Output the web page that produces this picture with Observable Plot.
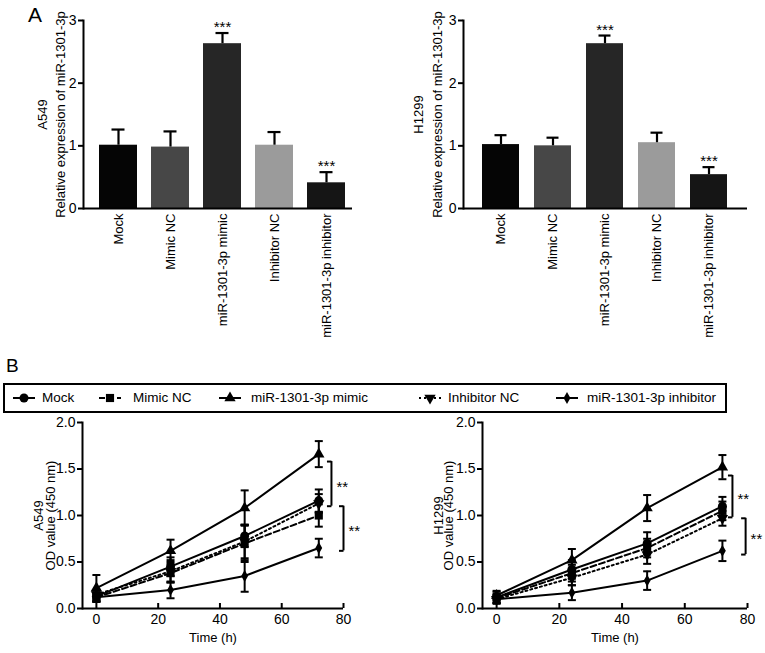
<!DOCTYPE html>
<html><head><meta charset="utf-8">
<script src="https://cdn.jsdelivr.net/npm/d3@7"></script>
<script src="https://cdn.jsdelivr.net/npm/@observablehq/plot@0.6"></script>
<style>
body{margin:0;background:#fff;font-family:"Liberation Sans",Arial,Helvetica,sans-serif;color:#000;}
#root{position:relative;width:765px;height:653px;overflow:hidden;}
.cell{position:absolute;}
.letter{position:absolute;line-height:1;}
#legend{position:absolute;left:3px;top:383px;width:724px;height:30px;box-sizing:border-box;border:2px solid #000;}
.lg-sym{position:absolute;top:0;}
.lg-txt{position:absolute;top:0;height:26px;line-height:26px;font-size:13.5px;white-space:nowrap;}
</style></head><body><div id="root"></div>
<script>
// ---------- data ----------
const groups = ["Mock", "Mimic NC", "miR-1301-3p mimic", "Inhibitor NC", "miR-1301-3p inhibitor"];
const barColors = ["#050505", "#474747", "#262626", "#9b9b9b", "#151515"];
const a549Expr = [1.01, 0.98, 2.63, 1.01, 0.41];
const a549ExprErr = [0.25, 0.25, 0.17, 0.21, 0.17];
const h1299Expr = [1.02, 1.00, 2.63, 1.05, 0.54];
const h1299ExprErr = [0.15, 0.13, 0.13, 0.16, 0.12];
const exprStars = ["", "", "***", "", "***"];
const exprTicks = [0, 1, 2, 3];

const timePoints = [0, 24, 48, 72];
const timeTicks = [0, 20, 40, 60, 80];
const odTicks = [0, 0.5, 1.0, 1.5, 2.0];

const a549Mock = [0.13, 0.45, 0.78, 1.16];
const a549MockErr = [0.06, 0.10, 0.12, 0.12];
const a549MimicNC = [0.12, 0.38, 0.70, 1.00];
const a549MimicNCErr = [0.05, 0.10, 0.20, 0.12];
const a549Mimic = [0.22, 0.62, 1.08, 1.66];
const a549MimicErr = [0.14, 0.12, 0.19, 0.14];
const a549InhibitorNC = [0.15, 0.40, 0.72, 1.13];
const a549InhibitorNCErr = [0.05, 0.12, 0.18, 0.10];
const a549Inhibitor = [0.12, 0.20, 0.35, 0.65];
const a549InhibitorErr = [0.04, 0.09, 0.17, 0.10];

const h1299Mock = [0.12, 0.42, 0.70, 1.10];
const h1299MockErr = [0.06, 0.10, 0.12, 0.10];
const h1299MimicNC = [0.11, 0.38, 0.65, 1.05];
const h1299MimicNCErr = [0.05, 0.09, 0.10, 0.10];
const h1299Mimic = [0.14, 0.52, 1.08, 1.52];
const h1299MimicErr = [0.05, 0.12, 0.14, 0.13];
const h1299InhibitorNC = [0.10, 0.33, 0.58, 0.97];
const h1299InhibitorNCErr = [0.05, 0.08, 0.10, 0.08];
const h1299Inhibitor = [0.10, 0.17, 0.30, 0.62];
const h1299InhibitorErr = [0.04, 0.08, 0.10, 0.11];

const a549Brackets = [{x: 76.1, y1: 1.58, y2: 1.10, label: "**"}, {x: 80.0, y1: 1.10, y2: 0.62, label: "**"}];
const h1299Brackets = [{x: 75.2, y1: 1.43, y2: 0.98, label: "**"}, {x: 79.4, y1: 0.97, y2: 0.58, label: "**"}];

// ---------- styles ----------
const FONT = '"Liberation Sans", Arial, Helvetica, sans-serif';
const triangleDown = {
  draw(ctx, size) {
    const y = -Math.sqrt(size / (Math.sqrt(3) * 3));
    ctx.moveTo(0, -2 * y);
    ctx.lineTo(-Math.sqrt(3) * y, y);
    ctx.lineTo(Math.sqrt(3) * y, y);
    ctx.closePath();
  }
};
const capSymbol = {draw(ctx, size) { const w = Math.sqrt(size / Math.PI); ctx.moveTo(-w, 0); ctx.lineTo(w, 0); }};
const leftTickSymbol = {draw(ctx, size) { const w = Math.sqrt(size / Math.PI); ctx.moveTo(-w, 0); ctx.lineTo(0, 0); }};
const seriesSymbols = ["circle", "square", "triangle", triangleDown, "diamond"];
const seriesR = [4.5, 4.6, 4.2, 4.2, 3.6];
const seriesDash = [null, "6,3", null, "2,3", null];

const root = document.getElementById("root");
function place(el, left, top) {
  const d = document.createElement("div");
  d.className = "cell"; d.style.left = left + "px"; d.style.top = top + "px";
  d.appendChild(el); root.appendChild(d);
}
function letter(t, left, top, size) {
  const d = document.createElement("div");
  d.className = "letter"; d.textContent = t;
  d.style.left = left + "px"; d.style.top = top + "px"; d.style.fontSize = size + "px";
  root.appendChild(d);
}
const rotLabel = (txt, dx) => Plot.text([txt], {frameAnchor: "left", rotate: -90, dx, text: d => d,
  textAnchor: "middle", lineAnchor: "middle", fontSize: 13});

// ---------- panel A ----------
function barChart({values, errs, cellLabel, width, marginRight, pi, po, align, dxA, dxB}) {
  const data = groups.map((g, i) => ({g, v: values[i], e: errs[i], c: barColors[i], s: exprStars[i]}));
  return Plot.plot({
    width, height: 335, marginLeft: 83, marginRight, marginTop: 20, marginBottom: 127,
    style: {fontFamily: FONT, fontSize: "13px", color: "#000", background: "transparent", overflow: "visible"},
    x: {domain: groups, paddingInner: pi, paddingOuter: po, align, axis: null},
    y: {domain: [0, 3], axis: null},
    color: {type: "identity"},
    marks: [
      Plot.barY(data, {x: "g", y: "v", fill: "c"}),
      Plot.ruleX(data, {x: "g", y1: "v", y2: d => d.v + d.e, stroke: "#000", strokeWidth: 2.2}),
      Plot.tickY(data, {x: "g", y: d => d.v + d.e, stroke: "#000", strokeWidth: 2.2, insetLeft: 12.5, insetRight: 12.5}),
      Plot.text(data, {x: "g", y: d => d.v + d.e, text: "s", lineAnchor: "bottom", dy: -1, fontSize: 15}),
      Plot.axisY({ticks: exprTicks, tickFormat: d => String(d), tickSize: 5, tickPadding: 2, strokeWidth: 2, fontSize: 14, label: null}),
      Plot.axisX({tickRotate: -90, tickSize: 0, tickPadding: 5, label: null, fontSize: 13}),
      Plot.frame({anchor: "left", strokeWidth: 2}),
      Plot.ruleY([0], {strokeWidth: 2}),
      rotLabel(cellLabel, dxA),
      rotLabel("Relative expression of miR-1301-3p", dxB)
    ]
  });
}

// ---------- panel B ----------
function lineChart({series, errs, brackets, cellLabel, width, marginLeft, marginRight, dxA, dxB}) {
  const rows = series.map((vals, k) => timePoints.map((t, i) => ({t, v: vals[i], e: errs[k][i], k})));
  const all = rows.flat();
  const frameH = 243 - 12 - 45;
  const marks = [];
  rows.forEach((r, k) => {
    marks.push(Plot.line(r, {x: "t", y: "v", stroke: "#000", strokeWidth: 2, strokeDasharray: seriesDash[k] || undefined}));
  });
  marks.push(Plot.ruleX(all, {x: "t", y1: d => d.v - d.e, y2: d => d.v + d.e, stroke: "#000", strokeWidth: 2}));
  marks.push(Plot.dot(all, {x: "t", y: d => d.v + d.e, symbol: capSymbol, r: 4, fill: "none", stroke: "#000", strokeWidth: 2}));
  marks.push(Plot.dot(all, {x: "t", y: d => d.v - d.e, symbol: capSymbol, r: 4, fill: "none", stroke: "#000", strokeWidth: 2}));
  rows.forEach((r, k) => {
    marks.push(Plot.dot(r, {x: "t", y: "v", symbol: seriesSymbols[k], r: seriesR[k], fill: "#000", stroke: "none"}));
  });
  marks.push(
    Plot.ruleX(brackets, {x: "x", y1: "y1", y2: "y2", stroke: "#000", strokeWidth: 2}),
    Plot.dot(brackets, {x: "x", y: "y1", symbol: leftTickSymbol, r: 4.5, fill: "none", stroke: "#000", strokeWidth: 2}),
    Plot.dot(brackets, {x: "x", y: "y2", symbol: leftTickSymbol, r: 4.5, fill: "none", stroke: "#000", strokeWidth: 2}),
    Plot.text(brackets, {x: "x", y: d => (d.y1 + d.y2) / 2, text: "label", textAnchor: "start", lineAnchor: "middle", dx: 5, dy: 3, fontSize: 15}),
    Plot.axisY({ticks: odTicks, tickFormat: d3.format(".1f"), tickSize: 5, tickPadding: 2, strokeWidth: 2, fontSize: 14, label: null}),
    Plot.axisX({ticks: timeTicks, tickFormat: d => String(d), tickSize: 0, tickPadding: 6, fontSize: 14, label: null}),
    Plot.ruleX(timeTicks, {x: d => d, insetTop: frameH - 5, stroke: "#000", strokeWidth: 2}),
    Plot.frame({anchor: "left", strokeWidth: 2}),
    Plot.ruleY([0], {strokeWidth: 2}),
    Plot.text(["Time (h)"], {frameAnchor: "bottom", dy: 29, text: d => d, textAnchor: "middle", lineAnchor: "middle", fontSize: 13}),
    rotLabel(cellLabel, dxA),
    rotLabel("OD value (450 nm)", dxB)
  );
  return Plot.plot({
    width, height: 243, marginLeft, marginRight, marginTop: 12, marginBottom: 45,
    style: {fontFamily: FONT, fontSize: "13px", color: "#000", background: "transparent", overflow: "visible"},
    x: {domain: [-4.5, 80], axis: null},
    y: {domain: [0, 2], axis: null},
    marks
  });
}

place(barChart({values: a549Expr, errs: a549ExprErr, cellLabel: "A549", width: 380, marginRight: 28,
  pi: 0.276, po: 0.2, align: 0.667, dxA: -41, dxB: -23}), 0, 0);
place(barChart({values: h1299Expr, errs: h1299ExprErr, cellLabel: "H1299", width: 385, marginRight: 18,
  pi: 0.28, po: 0.332, align: 0.5, dxA: -45, dxB: -26}), 380, 0);

place(lineChart({
  series: [a549Mock, a549MimicNC, a549Mimic, a549InhibitorNC, a549Inhibitor],
  errs: [a549MockErr, a549MimicNCErr, a549MimicErr, a549InhibitorNCErr, a549InhibitorErr],
  brackets: a549Brackets, cellLabel: "A549", width: 380, marginLeft: 82, marginRight: 37, dxA: -44, dxB: -32
}), 0, 410);
place(lineChart({
  series: [h1299Mock, h1299MimicNC, h1299Mimic, h1299InhibitorNC, h1299Inhibitor],
  errs: [h1299MockErr, h1299MimicNCErr, h1299MimicErr, h1299InhibitorNCErr, h1299InhibitorErr],
  brackets: h1299Brackets, cellLabel: "H1299", width: 385, marginLeft: 102, marginRight: 18, dxA: -44, dxB: -34
}), 380, 410);

letter("A", 28, 4, 21);
letter("B", 6, 356, 19);

// ---------- legend ----------
const legend = document.createElement("div");
legend.id = "legend";
root.appendChild(legend);
const legendSym = [7, 93, 213, 413, 550];
const legendTxt = [37, 128, 246, 443, 582];
groups.forEach((g, k) => {
  const svg = d3.create("svg").attr("width", 24).attr("height", 26).attr("class", "lg-sym")
    .style("left", legendSym[k] + "px");
  svg.append("line").attr("x1", 1).attr("x2", 23).attr("y1", 13).attr("y2", 13)
    .attr("stroke", "#000").attr("stroke-width", 2).attr("stroke-dasharray", seriesDash[k]);
  const r = seriesR[k];
  const type = typeof seriesSymbols[k] === "string"
    ? {circle: d3.symbolCircle, square: d3.symbolSquare, triangle: d3.symbolTriangle, diamond: d3.symbolDiamond}[seriesSymbols[k]]
    : seriesSymbols[k];
  svg.append("path").attr("transform", "translate(12,13)")
    .attr("d", d3.symbol(type, r * r * Math.PI)()).attr("fill", "#000");
  legend.appendChild(svg.node());
  const t = document.createElement("div");
  t.className = "lg-txt"; t.style.left = legendTxt[k] + "px"; t.textContent = g;
  legend.appendChild(t);
});
</script></body></html>
